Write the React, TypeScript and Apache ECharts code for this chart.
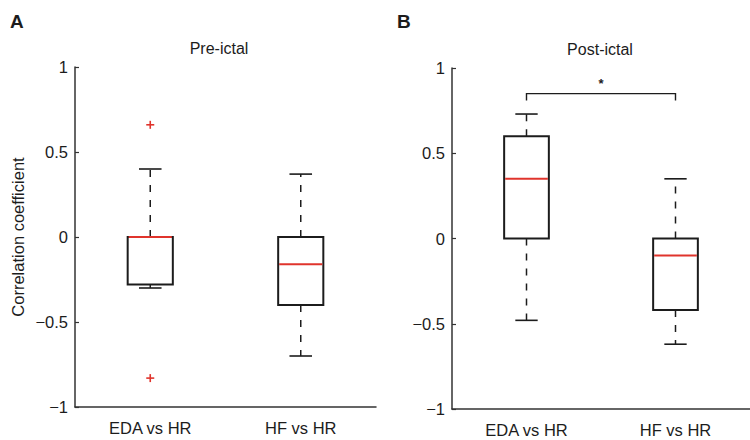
import React, { useEffect, useRef } from "react";
import * as echarts from "echarts";

const categories = ["EDA vs HR", "HF vs HR"];
// [categoryIndex, lowerWhisker, Q1, median, Q3, upperWhisker]
const preIctalBoxes = [
  [0, -0.3, -0.28, 0.0, 0.0, 0.4],
  [1, -0.7, -0.4, -0.16, 0.0, 0.37],
];
const postIctalBoxes = [
  [0, -0.48, 0.0, 0.35, 0.6, 0.73],
  [1, -0.62, -0.42, -0.1, 0.0, 0.35],
];
// [categoryIndex, value]
const preIctalOutliers = [
  [0, 0.66],
  [0, -0.83],
];
// [fromCategory, toCategory, bracketY]
const postIctalSignificance = [[0, 1, 0.85]];
const panelTitles = ["Pre-ictal", "Post-ictal"];
const panelLetters = ["A", "B"];
const yTickLabels: Record<string, string> = {
  "1": "1",
  "0.5": "0.5",
  "0": "0",
  "-0.5": "\u22120.5",
  "-1": "\u22121",
};

const FONT = "'Liberation Sans', Arial, Helvetica, sans-serif";
const INK = "#1c1c1c";
const RED = "#e0342c";

function boxRender(params: any, api: any) {
  const x = api.value(0);
  const band = api.size([1, 0])[0];
  const boxW = band * 0.3;
  const capW = boxW * 0.5;
  const pMin = api.coord([x, api.value(1)]);
  const pQ1 = api.coord([x, api.value(2)]);
  const pMed = api.coord([x, api.value(3)]);
  const pQ3 = api.coord([x, api.value(4)]);
  const pMax = api.coord([x, api.value(5)]);
  const cx = pMed[0];
  const dash = { stroke: INK, lineWidth: 1.5, lineDash: [7, 8] };
  const solid = { stroke: INK, lineWidth: 1.6 };
  return {
    type: "group",
    children: [
      { type: "line", shape: { x1: cx, y1: pQ3[1], x2: cx, y2: pMax[1] }, style: dash },
      { type: "line", shape: { x1: cx, y1: pQ1[1], x2: cx, y2: pMin[1] }, style: dash },
      { type: "line", shape: { x1: cx - capW / 2, y1: pMax[1], x2: cx + capW / 2, y2: pMax[1] }, style: solid },
      { type: "line", shape: { x1: cx - capW / 2, y1: pMin[1], x2: cx + capW / 2, y2: pMin[1] }, style: solid },
      {
        type: "rect",
        shape: { x: cx - boxW / 2, y: pQ3[1], width: boxW, height: pQ1[1] - pQ3[1] },
        style: { fill: "none", stroke: INK, lineWidth: 2 },
      },
      {
        type: "line",
        shape: { x1: cx - boxW / 2 + 1, y1: pMed[1], x2: cx + boxW / 2 - 1, y2: pMed[1] },
        style: { stroke: RED, lineWidth: 2 },
      },
    ],
  };
}

function outlierRender(params: any, api: any) {
  const p = api.coord([api.value(0), api.value(1)]);
  const h = 4;
  const st = { stroke: RED, lineWidth: 1.6 };
  return {
    type: "group",
    children: [
      { type: "line", shape: { x1: p[0] - h, y1: p[1], x2: p[0] + h, y2: p[1] }, style: st },
      { type: "line", shape: { x1: p[0], y1: p[1] - h, x2: p[0], y2: p[1] + h }, style: st },
    ],
  };
}

function bracketRender(params: any, api: any) {
  const a = api.coord([api.value(0), api.value(2)]);
  const b = api.coord([api.value(1), api.value(2)]);
  const leg = 7;
  return {
    type: "group",
    children: [
      {
        type: "polyline",
        shape: { points: [[a[0], a[1] + leg], [a[0], a[1]], [b[0], b[1]], [b[0], b[1] + leg]] },
        style: { fill: "none", stroke: INK, lineWidth: 1.4 },
      },
      {
        type: "text",
        style: {
          text: "*",
          x: (a[0] + b[0]) / 2,
          y: a[1] - 4,
          align: "center",
          verticalAlign: "bottom",
          font: `bold 13px ${FONT}`,
          fill: INK,
        },
      },
    ],
  };
}

export default function App() {
  const ref = useRef<HTMLDivElement>(null);
  useEffect(() => {
    if (!ref.current) return;
    const chart = echarts.init(ref.current, null, { renderer: "svg" });
    const grids = [
      { left: 75, top: 67, width: 301, height: 340 },
      { left: 452, top: 68, width: 305, height: 341 },
    ];
    const xAxis = grids.map((_, i) => ({
      type: "category",
      gridIndex: i,
      data: categories,
      boundaryGap: true,
      axisLine: { show: true, onZero: false, lineStyle: { color: "#333", width: 1.5 } },
      axisTick: { show: false },
      axisLabel: { color: INK, fontSize: 16.5, fontFamily: FONT, margin: 12 },
      splitLine: { show: false },
    }));
    const yAxis = grids.map((_, i) => ({
      type: "value",
      gridIndex: i,
      min: -1,
      max: 1,
      interval: 0.5,
      name: i === 0 ? "Correlation coefficient" : "",
      nameLocation: "middle",
      nameRotate: 90,
      nameGap: 49,
      nameTextStyle: { color: INK, fontSize: 16.5, fontFamily: FONT },
      axisLine: { show: true, onZero: false, lineStyle: { color: "#333", width: 1.5 } },
      axisTick: { show: true, inside: true, length: 4, lineStyle: { color: "#333", width: 1.2 } },
      axisLabel: {
        color: INK,
        fontSize: 16.5,
        fontFamily: FONT,
        margin: 7,
        formatter: (v: number) => yTickLabels[String(v)] ?? String(v),
      },
      splitLine: { show: false },
    }));
    chart.setOption({
      animation: false,
      backgroundColor: "#ffffff",
      grid: grids,
      xAxis,
      yAxis,
      graphic: [
        { type: "text", x: 10, y: 12, style: { text: panelLetters[0], font: `bold 19px ${FONT}`, fill: INK } },
        { type: "text", x: 397, y: 12, style: { text: panelLetters[1], font: `bold 19px ${FONT}`, fill: INK } },
        {
          type: "text",
          x: 219,
          y: 40,
          style: { text: panelTitles[0], font: `16px ${FONT}`, fill: INK, align: "center" },
        },
        {
          type: "text",
          x: 600,
          y: 41,
          style: { text: panelTitles[1], font: `16px ${FONT}`, fill: INK, align: "center" },
        },
      ],
      series: [
        {
          type: "custom",
          xAxisIndex: 0,
          yAxisIndex: 0,
          renderItem: boxRender,
          encode: { x: 0, y: [1, 2, 3, 4, 5] },
          data: preIctalBoxes,
        },
        {
          type: "custom",
          xAxisIndex: 0,
          yAxisIndex: 0,
          renderItem: outlierRender,
          encode: { x: 0, y: 1 },
          data: preIctalOutliers,
        },
        {
          type: "custom",
          xAxisIndex: 1,
          yAxisIndex: 1,
          renderItem: boxRender,
          encode: { x: 0, y: [1, 2, 3, 4, 5] },
          data: postIctalBoxes,
        },
        {
          type: "custom",
          xAxisIndex: 1,
          yAxisIndex: 1,
          renderItem: bracketRender,
          encode: { x: [0, 1], y: 2 },
          data: postIctalSignificance,
        },
      ],
    });
    return () => chart.dispose();
  }, []);
  return <div ref={ref} style={{ width: 750, height: 440, position: "absolute", left: 0, top: 0 }} />;
}
